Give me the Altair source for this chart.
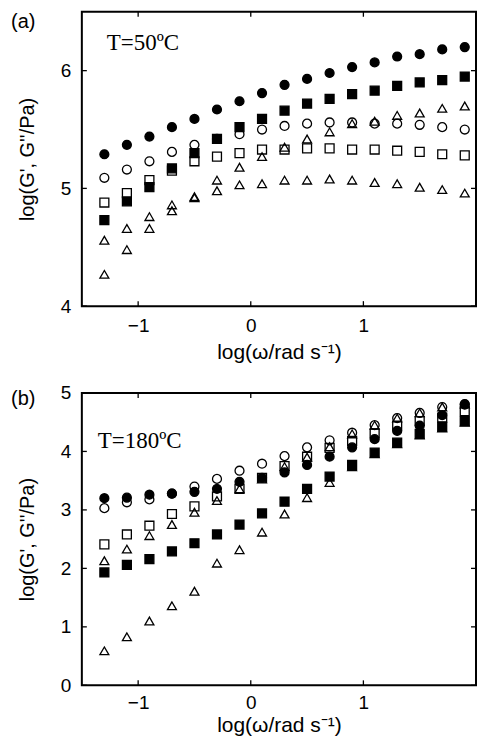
import altair as alt
import pandas as pd

# ---------------- data ----------------
x_vals = [-1.3, -1.1, -0.9, -0.7, -0.5, -0.3, -0.1, 0.1, 0.3, 0.5, 0.7, 0.9, 1.1, 1.3, 1.5, 1.7, 1.9]

series_names = ["open circle", "open square", "triangle A", "triangle B", "filled circle", "filled square"]
shape_range = ["circle", "square", "triangle-up", "triangle-up", "circle", "square"]
fill_range = ["transparent", "transparent", "transparent", "transparent", "black", "black"]

# panel (a) T = 50 C
a_open_circle = [5.09, 5.16, 5.23, 5.31, 5.37, 5.42, 5.46, 5.50, 5.53, 5.55, 5.56, 5.56, 5.55, 5.55, 5.54, 5.52, 5.50]
a_open_square = [4.88, 4.96, 5.07, 5.15, 5.23, 5.27, 5.30, 5.33, 5.33, 5.34, 5.34, 5.33, 5.33, 5.32, 5.31, 5.29, 5.28]
a_tri_upper = [4.56, 4.66, 4.76, 4.86, 4.93, 5.07, 5.18, 5.27, 5.35, 5.42, 5.48, 5.55, 5.57, 5.62, 5.64, 5.68, 5.70]
a_tri_lower = [4.27, 4.48, 4.66, 4.81, 4.92, 4.98, 5.03, 5.04, 5.07, 5.07, 5.08, 5.07, 5.05, 5.04, 5.01, 4.99, 4.96]
a_filled_circle = [5.29, 5.37, 5.44, 5.52, 5.59, 5.67, 5.74, 5.81, 5.88, 5.93, 5.98, 6.03, 6.07, 6.12, 6.14, 6.18, 6.20]
a_filled_square = [4.73, 4.89, 5.01, 5.17, 5.30, 5.42, 5.52, 5.59, 5.66, 5.72, 5.76, 5.80, 5.83, 5.87, 5.90, 5.92, 5.95]

# panel (b) T = 180 C
b_open_circle = [3.03, 3.13, 3.18, 3.28, 3.40, 3.53, 3.67, 3.79, 3.92, 4.07, 4.19, 4.32, 4.45, 4.57, 4.66, 4.76, 4.81]
b_open_square = [2.41, 2.58, 2.73, 2.93, 3.06, 3.23, 3.36, 3.55, 3.75, 3.91, 4.06, 4.18, 4.31, 4.44, 4.52, 4.58, 4.69]
b_tri_upper = [2.13, 2.33, 2.56, 2.75, 2.96, 3.16, 3.36, 3.53, 3.74, 3.90, 4.08, 4.30, 4.45, 4.57, 4.66, 4.76, 4.81]
b_tri_lower = [0.59, 0.83, 1.10, 1.36, 1.61, 2.09, 2.32, 2.62, 2.93, 3.21, 3.47, 3.74, 3.96, 4.13, 4.28, 4.40, 4.50]
b_filled_circle = [3.20, 3.21, 3.26, 3.28, 3.31, 3.36, 3.48, 3.55, 3.64, 3.77, 3.91, 4.07, 4.21, 4.35, 4.44, 4.62, 4.80]
b_filled_square = [1.93, 2.06, 2.16, 2.29, 2.43, 2.58, 2.75, 2.94, 3.14, 3.36, 3.57, 3.77, 3.98, 4.15, 4.30, 4.42, 4.52]

x_domain = [-1.5, 2]
x_ticks = [-1, 0, 1]
a_domain = [4, 6.5]
a_ticks = [4, 5, 6]
b_domain = [0, 5]
b_ticks = [0, 1, 2, 3, 4, 5]
panel_labels = ["(a)", "(b)"]
temp_labels = ["T=50ºC", "T=180ºC"]
x_title = "log(ω/rad s⁻¹)"
y_title = "log(G', G''/Pa)"

W = 395
SANS = "Liberation Sans"
SERIF = "Liberation Serif"


def long_df(lists):
    rows = []
    for name, vals in zip(series_names, lists):
        for x, y in zip(x_vals, vals):
            rows.append({"x": x, "y": y, "series": name})
    return pd.DataFrame(rows)


def panel(df, ydom, yticks, H, plabel, tlabel, plabel_y, t_x, t_y, xlab_pad, xtitle_y):
    xscale = alt.Scale(domain=x_domain, nice=False, zero=False)
    yscale = alt.Scale(domain=ydom, nice=False, zero=False)
    xaxis = alt.Axis(values=x_ticks, format="d", title=x_title, ticks=False, domain=False,
                     grid=False, labelPadding=xlab_pad, labelFlush=False, titleFontSize=21,
                     titleY=xtitle_y, titleBaseline="middle")
    yaxis = alt.Axis(values=yticks, format="d", title=y_title, ticks=False, domain=False,
                     grid=False, labelPadding=11, titleX=-54, titleY=H / 2,
                     titleBaseline="middle", titleAlign="center", titleAngle=270)

    pts = alt.Chart(df).mark_point(size=80, strokeWidth=1.3, opacity=1, fillOpacity=1).encode(
        x=alt.X("x:Q", scale=xscale, axis=xaxis, title=x_title),
        y=alt.Y("y:Q", scale=yscale, axis=yaxis, title=y_title),
        shape=alt.Shape("series:N", scale=alt.Scale(domain=series_names, range=shape_range), legend=None),
        fill=alt.Fill("series:N", scale=alt.Scale(domain=series_names, range=fill_range), legend=None),
        stroke=alt.value("black"),
        order=alt.Order("ord:Q"),
    ).transform_calculate(ord="indexof(%s, datum.series)" % str(series_names))

    xdf = pd.DataFrame({"x": x_ticks})
    ydf = pd.DataFrame({"y": yticks})
    tick_style = dict(color="black", strokeWidth=1.3)
    xb = alt.Chart(xdf).mark_rule(**tick_style).encode(
        x=alt.X("x:Q", scale=xscale, axis=xaxis, title=x_title), y=alt.value(H), y2=alt.value(H - 5))
    xt = alt.Chart(xdf).mark_rule(**tick_style).encode(
        x=alt.X("x:Q", scale=xscale, axis=xaxis, title=x_title), y=alt.value(0), y2=alt.value(5))
    yl = alt.Chart(ydf).mark_rule(**tick_style).encode(
        y=alt.Y("y:Q", scale=yscale, axis=yaxis, title=y_title), x=alt.value(0), x2=alt.value(5))
    yr = alt.Chart(ydf).mark_rule(**tick_style).encode(
        y=alt.Y("y:Q", scale=yscale, axis=yaxis, title=y_title), x=alt.value(W), x2=alt.value(W - 5))

    lab = alt.Chart(pd.DataFrame({"t": [plabel]})).mark_text(
        font=SANS, fontSize=20, align="left", baseline="alphabetic", color="black").encode(
        text="t:N", x=alt.value(-71), y=alt.value(plabel_y))
    temp = alt.Chart(pd.DataFrame({"t": [tlabel]})).mark_text(
        font=SERIF, fontSize=23, align="left", baseline="alphabetic", color="black").encode(
        text="t:N", x=alt.value(t_x), y=alt.value(t_y))

    return alt.layer(pts, xb, xt, yl, yr, lab, temp).properties(width=W, height=H)


dfa = long_df([a_open_circle, a_open_square, a_tri_upper, a_tri_lower, a_filled_circle, a_filled_square])
dfb = long_df([b_open_circle, b_open_square, b_tri_upper, b_tri_lower, b_filled_circle, b_filled_square])

pa = panel(dfa, a_domain, a_ticks, 295, panel_labels[0], temp_labels[0], 16, 25, 38, 10, 46)
pb = panel(dfb, b_domain, b_ticks, 293, panel_labels[1], temp_labels[1], 12, 16, 55, 8, 40)

chart = alt.vconcat(pa, pb, spacing=87, bounds="flush").properties(
    padding={"left": 2, "top": 1, "right": 0, "bottom": 0}
).configure_view(stroke="black", strokeWidth=2).configure_axis(
    labelFont=SANS, titleFont=SANS, labelFontSize=19, titleFontSize=20,
    labelColor="black", titleColor="black", titleFontWeight="normal"
)

chart.save("out.html", embed_options={"renderer": "svg", "actions": False})
